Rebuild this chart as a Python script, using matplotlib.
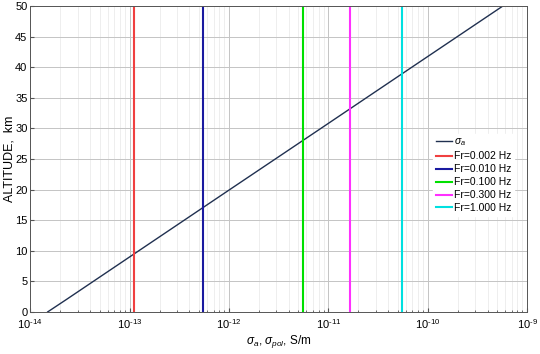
import numpy as np
import matplotlib
matplotlib.use("Agg")
import matplotlib.pyplot as plt
from matplotlib.ticker import LogLocator, NullFormatter

plt.rcParams['font.family'] = ['Liberation Sans', 'DejaVu Sans']
plt.rcParams['mathtext.fontset'] = 'custom'
plt.rcParams['mathtext.rm'] = 'Liberation Sans'
plt.rcParams['mathtext.it'] = 'Liberation Sans:italic'

# conductivity profile sigma_a vs altitude
altitude = [0, 2, 10, 20, 30, 40, 50]
sigma_a = [1.5e-14, 2.3e-14, 1.24e-13, 1.02e-12, 8.43e-12, 6.93e-11, 5.71e-10]

# polarisation conductivity for each frequency
freqs = [0.002, 0.010, 0.100, 0.300, 1.000]
sigma_pol = [1.1e-13, 5.5e-13, 5.5e-12, 1.65e-11, 5.5e-11]
colors = ['#f04040', '#1a1aa0', '#00e000', '#ff30ff', '#00e0e0']

xticks = [1e-14, 1e-13, 1e-12, 1e-11, 1e-10, 1e-9]
xticklabels = ['10$^{\\mathdefault{-14}}$', '10$^{\\mathdefault{-13}}$', '10$^{\\mathdefault{-12}}$',
               '10$^{\\mathdefault{-11}}$', '10$^{\\mathdefault{-10}}$', '10$^{\\mathdefault{-9}}$']

fig = plt.figure(figsize=(5.4, 3.54), dpi=100)
ax = fig.add_axes([0.056, 0.119, 0.92, 0.864])

ax.plot(sigma_a, altitude, color='#203050', lw=1.0, label=r'$\sigma_a$')
for f, s, c in zip(freqs, sigma_pol, colors):
    ax.plot([s, s], [0, 50], color=c, lw=1.5, label='Fr=%.3f Hz' % f)

ax.set_xscale('log')
ax.set_xlim(1e-14, 1e-9)
ax.set_ylim(0, 50)
ax.set_yticks(np.arange(0, 51, 5))
ax.set_xticks(xticks)
ax.set_xticklabels([l.replace('-', '\u2010') for l in xticklabels])
ax.xaxis.set_minor_locator(LogLocator(base=10, subs=np.arange(2, 10), numticks=20))
ax.xaxis.set_minor_formatter(NullFormatter())

ax.grid(True, which='major', color='#c4c4c4', lw=0.7)
ax.grid(True, which='minor', axis='x', color='#ebebeb', lw=0.6)
ax.set_axisbelow(True)
ax.tick_params(which='both', direction='in', labelsize=8, color='#555555')
ax.tick_params(axis='y', pad=2)
ax.tick_params(which='major', length=3)
ax.tick_params(which='minor', length=1.5)
for sp in ax.spines.values():
    sp.set_color('#555555')
    sp.set_linewidth(0.7)

ax.set_ylabel('ALTITUDE,  km', fontsize=9)
ax.yaxis.set_label_coords(-0.029, 0.5)
ax.set_xlabel(r'$\sigma_a$, $\sigma_{pol}$, S/m', fontsize=8.5, labelpad=2)

leg = ax.legend(loc='upper left', bbox_to_anchor=(0.80, 0.6), fontsize=7.5,
                frameon=True, fancybox=False, framealpha=1, edgecolor='white',
                handlelength=1.5, handletextpad=0.2, labelspacing=0.28,
                borderpad=0.3)

fig.savefig('out.png', dpi=100)
